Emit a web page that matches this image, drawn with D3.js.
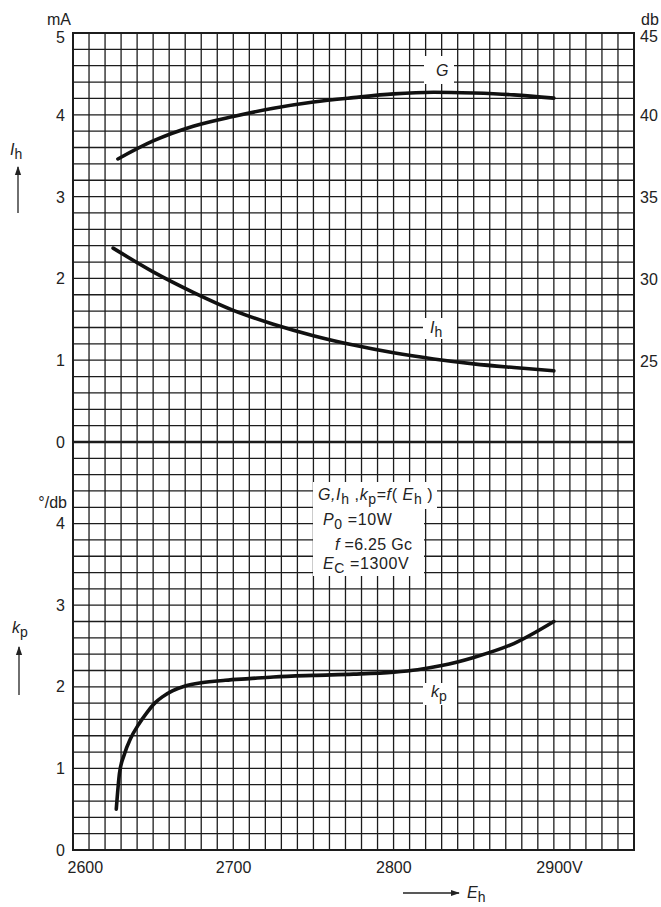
<!DOCTYPE html>
<html>
<head>
<meta charset="utf-8">
<script src="https://cdn.jsdelivr.net/npm/d3@7"></script>
<style>
  body { margin: 0; background: #fff; }
  text { font-family: 'Liberation Sans', Arial, sans-serif; fill: #222; }
</style>
</head>
<body>
<svg width="661" height="907"></svg>
<script>
// cathode voltage E_h in V
const gE = [2628, 2650, 2675, 2700, 2725, 2750, 2775, 2800, 2825, 2850, 2875, 2900]
const gDb = [37.3, 38.4, 39.3, 39.9, 40.4, 40.78, 41.05, 41.28, 41.38, 41.33, 41.22, 41.02]

const ihE = [2625, 2650, 2675, 2700, 2725, 2750, 2775, 2800, 2825, 2850, 2875, 2900]
const ihMa = [2.37, 2.08, 1.83, 1.61, 1.44, 1.3, 1.185, 1.09, 1.015, 0.955, 0.91, 0.87]

const kpE = [2627, 2629, 2632, 2636, 2641, 2646, 2651, 2656, 2662, 2670, 2680, 2695, 2710, 2725, 2750, 2775, 2800, 2815, 2830, 2850, 2875, 2900]
const kpVal = [0.5, 0.94, 1.17, 1.37, 1.54, 1.68, 1.8, 1.88, 1.95, 2.01, 2.05, 2.08, 2.1, 2.12, 2.14, 2.155, 2.18, 2.21, 2.26, 2.36, 2.53, 2.8]

const xTicks = [2600, 2700, 2800, 2900]
const maTicks = [0, 1, 2, 3, 4, 5]
const dbTicks = [25, 30, 35, 40, 45]
const kpTicks = [0, 1, 2, 3, 4]

const svg = d3.select('svg')
const pLeft = 73, pRight = 634, pTop = 33, pMid = 442, pBottom = 850
const ink = '#1c1c1c'

const x = d3.scaleLinear().domain([2600, 2950]).range([pLeft, pRight])
const yMa = d3.scaleLinear().domain([0, 5]).range([pMid, pTop])
const yDb = d3.scaleLinear().domain([20, 45]).range([pMid, pTop])
const yKp = d3.scaleLinear().domain([0, 5]).range([pBottom, pMid])

// graph paper
const grid = svg.append('g').attr('stroke', ink).attr('stroke-width', 1.3)
grid.selectAll('line.v')
  .data(d3.range(2600, 2951, 10))
  .enter().append('line')
    .attr('x1', d => x(d)).attr('x2', d => x(d))
    .attr('y1', pTop).attr('y2', pBottom)
grid.selectAll('line.hu')
  .data(d3.range(0, 26).map(i => i * 0.2))
  .enter().append('line')
    .attr('x1', pLeft).attr('x2', pRight)
    .attr('y1', d => yMa(d)).attr('y2', d => yMa(d))
grid.selectAll('line.hl')
  .data(d3.range(0, 25).map(i => i * 0.2))
  .enter().append('line')
    .attr('x1', pLeft).attr('x2', pRight)
    .attr('y1', d => yKp(d)).attr('y2', d => yKp(d))

// frame and zero line
svg.append('rect')
  .attr('x', pLeft).attr('y', pTop)
  .attr('width', pRight - pLeft).attr('height', pBottom - pTop)
  .attr('fill', 'none').attr('stroke', ink).attr('stroke-width', 2)
svg.append('line')
  .attr('x1', pLeft).attr('x2', pRight)
  .attr('y1', yMa(0)).attr('y2', yMa(0))
  .attr('stroke', ink).attr('stroke-width', 2.6)

// white patches under the labels
const patches = [[424, 56, 30, 28], [423, 318, 34, 21], [423, 683, 34, 22], [313, 482, 124, 27], [313, 505, 111, 71]]
svg.selectAll('rect.patch')
  .data(patches)
  .enter().append('rect')
    .attr('x', d => d[0]).attr('y', d => d[1])
    .attr('width', d => d[2]).attr('height', d => d[3])
    .attr('fill', '#fff')

// axes
function clean (g) {
  g.select('.domain').remove()
  g.selectAll('text').attr('fill', '#222').style('font-size', '16px')
    .style('font-family', "'Liberation Sans', Arial, sans-serif")
}
const fmt = d3.format('d')
svg.append('g').attr('transform', 'translate(' + pLeft + ',0)')
  .call(d3.axisLeft(yMa).tickValues(maTicks).tickFormat(fmt).tickSize(0).tickPadding(8))
  .call(clean)
  .selectAll('text').attr('dy', d => d === 5 ? '0.62em' : '0.34em')
svg.append('g').attr('transform', 'translate(' + pLeft + ',0)')
  .call(d3.axisLeft(yKp).tickValues(kpTicks).tickFormat(fmt).tickSize(0).tickPadding(8))
  .call(clean)
svg.append('g').attr('transform', 'translate(' + pRight + ',0)')
  .call(d3.axisRight(yDb).tickValues(dbTicks).tickFormat(fmt).tickSize(0).tickPadding(6))
  .call(clean)
  .selectAll('text').attr('dy', d => d === 45 ? '0.55em' : '0.38em')
svg.append('g').attr('transform', 'translate(0,' + pBottom + ')')
  .call(d3.axisBottom(x).tickValues(xTicks).tickSize(0).tickPadding(12)
    .tickFormat(d => d === 2900 ? '2900V' : fmt(d)))
  .call(clean)
  .selectAll('text')
    .attr('text-anchor', 'start')
    .attr('x', d => d === 2600 ? -6 : -18)

// curves
const line = d3.line().curve(d3.curveMonotoneX)
svg.append('path')
  .attr('d', line.x(d => x(d[0])).y(d => yDb(d[1]))(d3.zip(gE, gDb)))
  .attr('fill', 'none').attr('stroke', '#111').attr('stroke-width', 3.6).attr('stroke-linecap', 'round')
svg.append('path')
  .attr('d', line.x(d => x(d[0])).y(d => yMa(d[1]))(d3.zip(ihE, ihMa)))
  .attr('fill', 'none').attr('stroke', '#111').attr('stroke-width', 3.6).attr('stroke-linecap', 'round')
svg.append('path')
  .attr('d', line.x(d => x(d[0])).y(d => yKp(d[1]))(d3.zip(kpE, kpVal)))
  .attr('fill', 'none').attr('stroke', '#111').attr('stroke-width', 3.6).attr('stroke-linecap', 'round')

// text with italic symbols and subscripts
function label (x0, y0, parts, size, spacing) {
  const t = svg.append('text').attr('x', x0).attr('y', y0)
    .style('font-size', size + 'px').style('letter-spacing', (spacing || 0) + 'px')
  parts.forEach(p => {
    const s = t.append('tspan').text(p[0])
    if (p[1] === 'i') s.style('font-style', 'italic')
    if (p[1] === 's') s.attr('dy', 4).style('font-size', (size - 2) + 'px')
    if (p[1] === 'n') s.attr('dy', -4)
  })
  return t
}
svg.append('text').attr('x', 47).attr('y', 25).style('font-size', '16px').text('mA')
svg.append('text').attr('x', 641).attr('y', 25).style('font-size', '16px').text('db')
svg.append('text').attr('x', 67).attr('y', 508).attr('text-anchor', 'end').style('font-size', '16px').text('°/db')

label(436, 76, [['G', 'i']], 16)
label(430, 333, [['I', 'i'], ['h', 's']], 16)
label(431, 697, [['k', 'i'], ['p', 's']], 16)

label(318, 500, [['G,', 'i'], ['I', 'i'], ['h', 's'], [' ,', 'n'], ['k', 'i'], ['p', 's'], ['=', 'n'], ['f', 'i'], ['( ', ''], ['E', 'i'], ['h', 's'], [' )', 'n']], 16, 0.6)
label(323, 525, [['P', 'i'], ['0', 's'], [' =10W', 'n']], 16, 0.6)
label(335, 550, [['f', 'i'], [' =6.25 Gc', '']], 16, 0.3)
label(323, 569, [['E', 'i'], ['C', 's'], [' =1300V', 'n']], 16, 0.6)

// axis name labels with arrows
svg.append('defs').append('marker')
  .attr('id', 'head').attr('viewBox', '0 0 10 10').attr('refX', 9).attr('refY', 5)
  .attr('markerWidth', 7).attr('markerHeight', 7).attr('orient', 'auto')
  .append('path').attr('d', 'M0,1.5L10,5L0,8.5Z').attr('fill', '#222')

label(10, 155, [['I', 'i'], ['h', 's']], 16)
svg.append('line').attr('x1', 18).attr('x2', 18).attr('y1', 213).attr('y2', 167)
  .attr('stroke', '#222').attr('stroke-width', 1.3).attr('marker-end', 'url(#head)')
label(12, 633, [['k', 'i'], ['p', 's']], 16)
svg.append('line').attr('x1', 19).attr('x2', 19).attr('y1', 695).attr('y2', 647)
  .attr('stroke', '#222').attr('stroke-width', 1.3).attr('marker-end', 'url(#head)')
svg.append('line').attr('x1', 403).attr('x2', 459).attr('y1', 893).attr('y2', 893)
  .attr('stroke', '#222').attr('stroke-width', 1.3).attr('marker-end', 'url(#head)')
label(467, 898, [['E', 'i'], ['h', 's']], 16)
</script>
</body>
</html>
